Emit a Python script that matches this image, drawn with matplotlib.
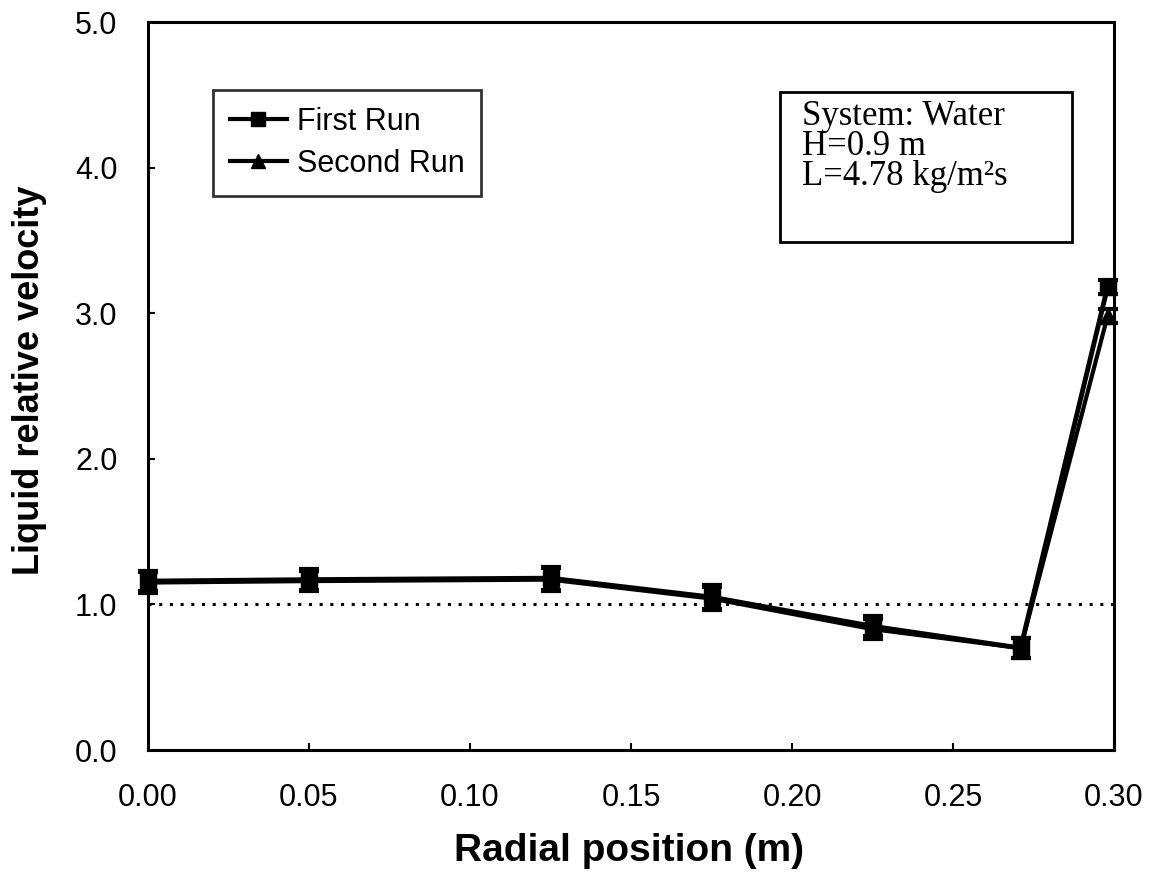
import matplotlib
matplotlib.use("Agg")
import matplotlib.pyplot as plt
from matplotlib.ticker import FormatStrFormatter
from matplotlib.patches import Rectangle

# Data
radial_position = [0.0, 0.05, 0.125, 0.175, 0.225, 0.271, 0.298]
first_run = [1.16, 1.17, 1.18, 1.05, 0.85, 0.70, 3.18]
first_err = [0.07, 0.07, 0.08, 0.08, 0.07, 0.07, 0.05]
second_run = [1.15, 1.16, 1.17, 1.04, 0.83, 0.70, 2.98]
second_err = [0.07, 0.07, 0.08, 0.08, 0.07, 0.07, 0.05]
reference_level = 1.0

x_ticks = [0.00, 0.05, 0.10, 0.15, 0.20, 0.25, 0.30]
y_ticks = [0.0, 1.0, 2.0, 3.0, 4.0, 5.0]
info_lines = ["System: Water", "H=0.9 m", "L=4.78 kg/m\u00b2s"]

sans = ["Liberation Sans", "DejaVu Sans"]
serif = ["Liberation Serif", "DejaVu Serif"]

fig = plt.figure(figsize=(11.54, 8.74), dpi=100)
ax = fig.add_axes([148 / 1154, 124 / 874, (1114 - 148) / 1154, (750 - 22) / 874])

ax.axhline(reference_level, color="black", linestyle=(0, (1, 2.5)), linewidth=2.2, zorder=1)

conts = []
conts.append(ax.errorbar(radial_position, first_run, yerr=first_err, color="black", marker="s",
                         markersize=12, linewidth=3.5, capsize=7, capthick=3, elinewidth=3,
                         label="First Run", zorder=3))
conts.append(ax.errorbar(radial_position, second_run, yerr=second_err, color="black", marker="^",
                         markersize=12, linewidth=3.0, capsize=7, capthick=3, elinewidth=3,
                         label="Second Run", zorder=3))
for c in conts:
    for art in c.get_children():
        art.set_clip_on(False)

ax.set_xlim(0.0, 0.30)
ax.set_ylim(0.0, 5.0)
ax.set_xticks(x_ticks)
ax.set_yticks(y_ticks)
ax.xaxis.set_major_formatter(FormatStrFormatter("%.2f"))
ax.yaxis.set_major_formatter(FormatStrFormatter("%.1f"))
ax.tick_params(direction="in", length=5, width=1.5, labelsize=22)
ax.tick_params(axis="x", pad=24)
ax.tick_params(axis="y", pad=22)
for lab in ax.get_xticklabels() + ax.get_yticklabels():
    lab.set_family(sans)
for sp in ax.spines.values():
    sp.set_linewidth(2.2)

ax.set_xlabel("Radial position (m)", fontsize=28, fontweight="bold", family=sans)
ax.set_ylabel("Liquid relative velocity", fontsize=26, fontweight="bold", family=sans)
ax.xaxis.set_label_coords(0.498, -0.1146)
ax.yaxis.set_label_coords(-0.1045, 0.508)

handles, labels = ax.get_legend_handles_labels()
handles = [h[0] for h in handles]
leg = ax.legend(handles, labels, loc="upper left", bbox_to_anchor=(65 / 966, 1 - 68 / 728),
                frameon=True, fancybox=False, edgecolor="black",
                prop={"family": sans, "size": 22}, handlelength=1.86,
                handletextpad=0.33, borderpad=0.55, labelspacing=0.4, borderaxespad=0)
leg.get_frame().set_linewidth(2)
for h in leg.legend_handles:
    h.set_markersize(10)
    h.set_linewidth(3)

ax.add_patch(Rectangle((632 / 966, 508 / 728), 292 / 966, 150 / 728, transform=ax.transAxes,
                       facecolor="white", edgecolor="black", linewidth=2, zorder=4))
baselines = [125, 155, 185]
for line, b in zip(info_lines, baselines):
    ax.text(654 / 966, (750 - b) / 728, line, transform=ax.transAxes, ha="left",
            va="baseline", fontsize=25, family=serif, zorder=5)

fig.savefig("out.png", dpi=100)
